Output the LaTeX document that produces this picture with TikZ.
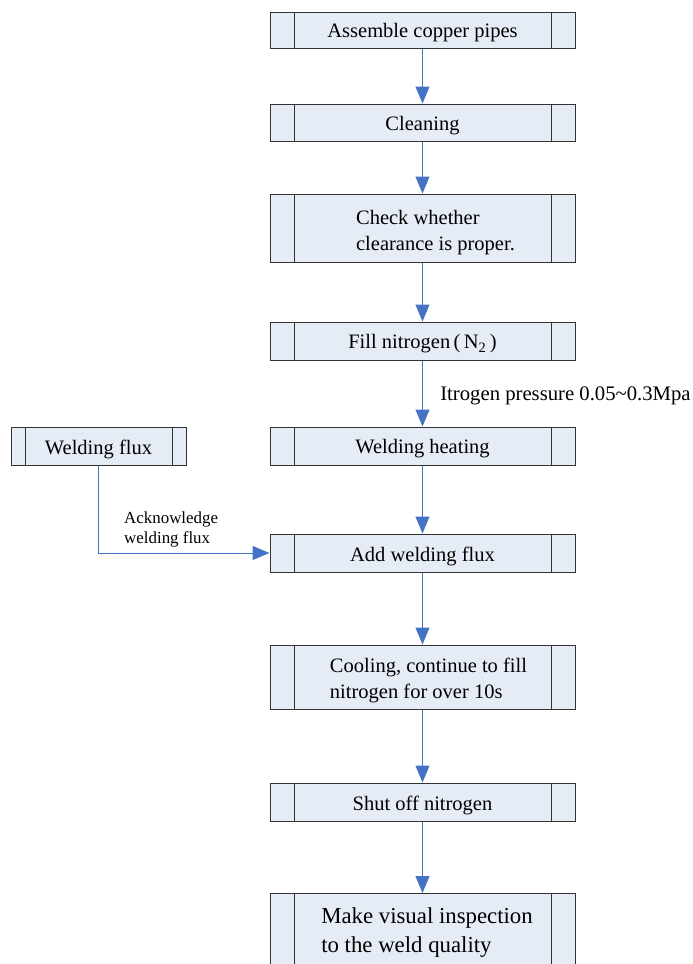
\documentclass[tikz,border=0pt]{standalone}
\usepackage{fontspec}
\setmainfont{Liberation Serif}
\usetikzlibrary{arrows.meta}
\definecolor{boxfill}{HTML}{E6ECF5}
\definecolor{arrblue}{HTML}{4472C4}
\definecolor{boxline}{HTML}{333333}
\begin{document}
\begin{tikzpicture}[x=1pt,y=-1pt,
  stepbox/.style={draw=boxline, fill=boxfill, line width=1pt, minimum width=305, minimum height=#1,
    inner sep=0pt,
    path picture={
      \draw[boxline, line width=1pt]
        ([xshift=24pt]path picture bounding box.north west) -- ([xshift=24pt]path picture bounding box.south west)
        ([xshift=-24pt]path picture bounding box.north east) -- ([xshift=-24pt]path picture bounding box.south east);}},
  sidebox/.style={draw=boxline, fill=boxfill, line width=1pt, minimum width=175, minimum height=38,
    inner sep=0pt,
    path picture={
      \draw[boxline, line width=1pt]
        ([xshift=14pt]path picture bounding box.north west) -- ([xshift=14pt]path picture bounding box.south west)
        ([xshift=-14pt]path picture bounding box.north east) -- ([xshift=-14pt]path picture bounding box.south east);}},
  boxtext/.style={align=left, inner sep=0pt, yshift=-3pt, font=\fontsize{20.5}{26}\selectfont},
  bigtext/.style={align=left, inner sep=0pt, font=\fontsize{22.8}{29}\selectfont},
  arr/.style={draw=arrblue, line width=1pt, -{Triangle[width=14pt,length=17pt]}, color=arrblue}
]
\clip (0,0) rectangle (693,964);
\useasboundingbox (0,0) rectangle (693,964);
\node[stepbox=36, label={[boxtext]center:Assemble copper pipes}] (b1) at (422.5,30) {};
\node[stepbox=37, label={[boxtext]center:Cleaning}] (b2) at (422.5,122.5) {};
\node[stepbox=68, label={[boxtext, xshift=13pt, yshift=-2pt]center:{Check whether\\clearance is proper.}}] (b3) at (422.5,228) {};
\node[stepbox=38, label={[boxtext]center:{Fill nitrogen\,(\,N\textsubscript{2}\,)}}] (b4) at (422.5,341) {};
\node[stepbox=38, label={[boxtext]center:Welding heating}] (b5) at (422.5,446) {};
\node[stepbox=38, label={[boxtext]center:Add welding flux}] (b6) at (422.5,553) {};
\node[stepbox=64, label={[boxtext, xshift=6pt]center:{Cooling, continue to fill\\nitrogen for over 10s}}] (b7) at (422.5,677) {};
\node[stepbox=38, label={[boxtext]center:Shut off nitrogen}] (b8) at (422.5,802) {};
\node[stepbox=100, anchor=north] (b9) at (422.5,893) {};
\node[bigtext, anchor=north] (b9t) at (427,907) {Make visual inspection\\to the weld quality};
\node[sidebox, label={[boxtext]center:Welding flux}] (wf) at (98.5,446) {};

\draw[arr] (b1) -- (b2);
\draw[arr] (b2) -- (b3);
\draw[arr] (b3) -- (b4);
\draw[arr] (b4) -- node[anchor=west, xshift=14pt, yshift=-2pt, font=\fontsize{20.7}{27}\selectfont, text=black] (lp) {Itrogen pressure 0.05\textasciitilde 0.3Mpa} (b5);
\draw[arr] (b5) -- (b6);
\draw[arr] (b6) -- (b7);
\draw[arr] (b7) -- (b8);
\draw[arr] (b8) -- (b9);
\draw[arr] (wf.south) |- (b6.west);
\node[anchor=south west, align=left, font=\fontsize{16.9}{20}\selectfont, inner sep=0pt] (lab) at (124,547) {Acknowledge\\welding flux};
\end{tikzpicture}
\end{document}
